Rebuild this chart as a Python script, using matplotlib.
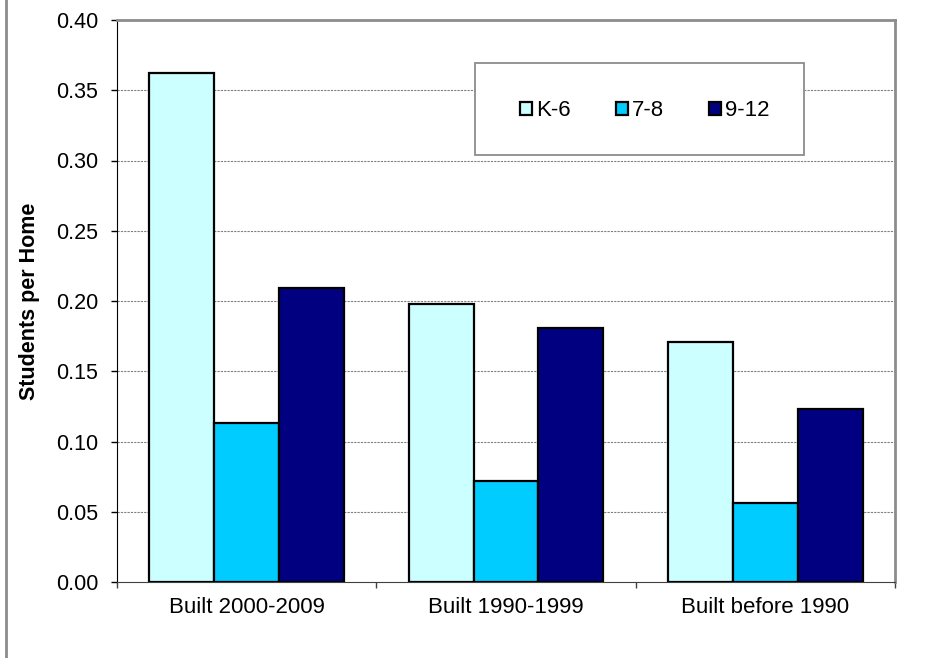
#!/usr/bin/env python3
# -*- coding: utf-8 -*-
"""Students per home by housing age and grade band (grouped bars)."""
import numpy as np
import matplotlib
matplotlib.use("Agg")
import matplotlib.pyplot as plt
from matplotlib.patches import Rectangle
from matplotlib.lines import Line2D

# === DATA ===
categories = ["Built 2000-2009", "Built 1990-1999", "Built before 1990"]
series_names = ["K-6", "7-8", "9-12"]
k6 = [0.362, 0.198, 0.171]
g78 = [0.113, 0.072, 0.056]
g912 = [0.209, 0.181, 0.123]
y_ticks = [0.00, 0.05, 0.10, 0.15, 0.20, 0.25, 0.30, 0.35, 0.40]

colors = ["#CCFFFF", "#00CCFF", "#000080"]

plt.rcParams['font.family'] = ['Liberation Sans', 'DejaVu Sans']

fig = plt.figure(figsize=(9.31, 6.58), dpi=100)
ax = fig.add_axes([117 / 931, 1 - 582 / 658, 778 / 931, 562 / 658])

x = np.arange(len(categories))
width = 0.25
for i, (vals, name) in enumerate(zip([k6, g78, g912], series_names)):
    ax.bar(x + (i - 1) * width, vals, width, color=colors[i], edgecolor="black",
           linewidth=1.6, label=name, zorder=3)

ax.set_xlim(-0.5, len(categories) - 0.5)
ax.set_ylim(0, 0.40)
ax.set_yticks(y_ticks)
ax.set_yticklabels([f"{v:.2f}" for v in y_ticks], fontsize=15.5)

# category boundaries as ticks, labels centred
ax.set_xticks(np.arange(len(categories) + 1) - 0.5)
ax.set_xticklabels([])
ax.set_xticks(x, minor=True)
ax.set_xticklabels(categories, minor=True, fontsize=16)
ax.tick_params(axis="x", which="major", direction="out", length=4.5, width=1, color="#404040")
ax.tick_params(axis="x", which="minor", length=0, pad=11)
ax.tick_params(axis="y", direction="out", length=4.5, width=1, pad=9)

# dotted gridlines
for v in y_ticks[1:-1]:
    ax.axhline(v, color="#808080", linestyle=(0, (2, 1)), linewidth=0.8, zorder=1)

ax.spines["left"].set_color("black")
ax.spines["bottom"].set_color("#404040")
for s in ["top", "right"]:
    ax.spines[s].set_color("#8c8c8c")
    ax.spines[s].set_linewidth(2)

ax.set_ylabel("Students per Home", fontsize=15.5, fontweight="bold")
ax.yaxis.set_label_coords(-0.099, 0.5)

# legend box
box = Rectangle((0.460, 0.760), 0.423, 0.1635, transform=ax.transAxes,
                facecolor="white", edgecolor="#8c8c8c", linewidth=1.3, zorder=4)
ax.add_patch(box)
handles, labels = ax.get_legend_handles_labels()
leg = ax.legend(handles, labels, ncol=3, frameon=False, fontsize=16,
                loc="center", bbox_to_anchor=(0.460 + 0.423 / 2 + 0.007, 0.760 + 0.1635 / 2 - 0.003),
                handlelength=0.55, handleheight=0.55, handletextpad=0.2,
                columnspacing=2.0)
leg.set_zorder(5)

# left border of chart area
fig.add_artist(Line2D([5.5 / 931, 5.5 / 931], [0, 1], transform=fig.transFigure,
                      color="#8c8c8c", linewidth=2))

fig.savefig("out.png", dpi=100)
